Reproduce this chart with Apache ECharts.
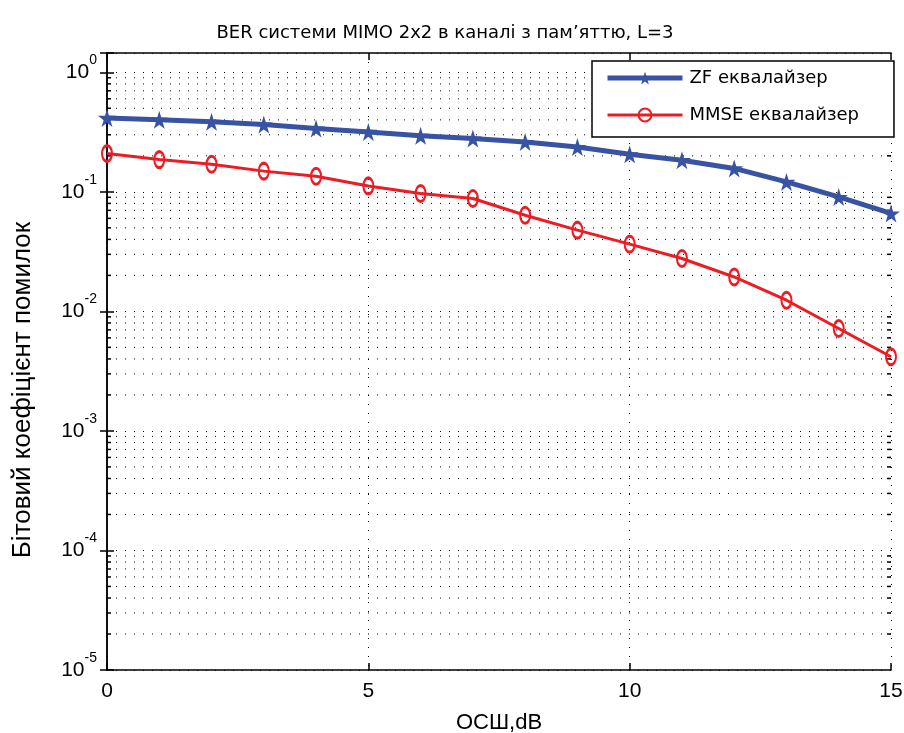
<!DOCTYPE html>
<html>
<head>
<meta charset="utf-8">
<title>BER MIMO 2x2</title>
<script src="https://cdn.jsdelivr.net/npm/echarts@6/dist/echarts.min.js"></script>
<style>
  html, body { margin: 0; padding: 0; background: #fff; }
  #main { width: 904px; height: 733px; }
</style>
</head>
<body>
<div id="main"></div>
<script>
// SNR, dB
var snr = [0, 1, 2, 3, 4, 5, 6, 7, 8, 9, 10, 11, 12, 13, 14, 15];
// BER
var berZF = [0.415, 0.40, 0.385, 0.365, 0.338, 0.317, 0.294, 0.279, 0.261, 0.237, 0.206, 0.184, 0.157, 0.121, 0.0906, 0.0659];
var berMMSE = [0.209, 0.186, 0.170, 0.149, 0.135, 0.112, 0.0968, 0.0879, 0.0637, 0.0478, 0.0365, 0.0277, 0.0194, 0.0124, 0.00719, 0.00417];
// y axis: decades shown and the mantissas of the minor grid lines
var decades = [-5, -4, -3, -2, -1];
var mantissas = [2, 3, 4, 5, 6, 7, 8, 9];

var minorValues = [];
decades.forEach(function (d) {
  mantissas.forEach(function (m) { minorValues.push([0, m * Math.pow(10, d)]); });
});

var blue = '#3953a4';
var red = '#ed1c24';
var starPath = 'path://M50,0 L61,35 L98,35 L68,57 L79,91 L50,70 L21,91 L32,57 L2,35 L39,35 Z';

function pairs(ys) {
  return snr.map(function (x, i) { return [x, ys[i]]; });
}

var chart = echarts.init(document.getElementById('main'));

var option = {
  backgroundColor: '#fff',
  animation: false,
  title: {
    text: 'BER системи MIMO 2x2 в каналі з пам\u2019яттю, L=3',
    left: 440,
    textAlign: 'center',
    top: 19,
    textStyle: { fontFamily: 'DejaVu Sans', fontSize: 18, fontWeight: 'normal', color: '#000' }
  },
  legend: {
    data: [
      { name: 'ZF еквалайзер', lineStyle: { width: 5 } },
      { name: 'MMSE еквалайзер', lineStyle: { width: 3 } }
    ],
    orient: 'vertical',
    left: 592,
    top: 61,
    padding: [7, 35, 12, 13],
    itemWidth: 75,
    itemHeight: 16,
    itemGap: 17,
    backgroundColor: '#fff',
    borderColor: '#000',
    borderWidth: 1.5,
    textStyle: { fontFamily: 'DejaVu Sans', fontSize: 18, color: '#000', lineHeight: 20, padding: [0, 0, 0, 2] }
  },
  grid: { left: 107, right: 13, top: 53, bottom: 63, outerBoundsMode: 'none', containLabel: false },
  graphic: [{
    type: 'text',
    x: 23,
    y: 390,
    rotation: Math.PI / 2,
    style: {
      text: 'Бітовий коефіцієнт помилок',
      fontFamily: 'Liberation Sans',
      fontSize: 26,
      fill: '#000',
      textAlign: 'center',
      textVerticalAlign: 'middle'
    }
  }],
  xAxis: [{
    type: 'value',
    min: 0, max: 15, interval: 5,
    name: 'ОСШ,dB',
    nameLocation: 'middle',
    nameGap: 42,
    nameTextStyle: { fontFamily: 'Liberation Sans', fontSize: 22, color: '#000' },
    axisLine: { lineStyle: { color: '#000', width: 1.5 } },
    axisTick: { inside: true, length: 7, lineStyle: { color: '#000', width: 1.5 } },
    axisLabel: { margin: 11, fontFamily: 'Liberation Sans', fontSize: 21, color: '#000' },
    splitLine: { show: true, lineStyle: { color: '#000', width: 1, type: [1, 8] } }
  }, {
    type: 'value',
    position: 'top',
    min: 0, max: 15, interval: 5,
    axisLine: { lineStyle: { color: '#000', width: 1.5 } },
    axisTick: { inside: true, length: 7, lineStyle: { color: '#000', width: 1.5 } },
    axisLabel: { show: false },
    splitLine: { show: false }
  }],
  yAxis: [{
    type: 'log',
    logBase: 10,
    min: 1e-5, max: 1.45,
    axisLine: { lineStyle: { color: '#000', width: 1.5 } },
    axisTick: { inside: true, length: 7, lineStyle: { color: '#000', width: 1.5 } },
    axisLabel: {
      margin: 10,
      formatter: function (v) {
        var e = Math.log10(v), r = Math.round(e);
        if (Math.abs(e - r) > 1e-6) return '';
        return '{b|10}{s|' + r + '}';
      },
      rich: {
        b: { fontFamily: 'Liberation Sans', fontSize: 21, color: '#000', lineHeight: 38, verticalAlign: 'middle' },
        s: { fontFamily: 'Liberation Sans', fontSize: 14, color: '#000', lineHeight: 14, verticalAlign: 'top' }
      }
    },
    splitLine: { show: true, lineStyle: { color: '#000', width: 1, type: [1, 8] } }
  }, {
    type: 'log',
    logBase: 10,
    position: 'right',
    min: 1e-5, max: 1.45,
    axisLine: { lineStyle: { color: '#000', width: 1.5 } },
    axisTick: { inside: true, length: 7, lineStyle: { color: '#000', width: 1.5 } },
    axisLabel: { show: false },
    splitLine: { show: false }
  }],
  series: [{
    // minor log grid lines with small inner ticks on both sides
    name: 'minor',
    type: 'custom',
    silent: true,
    z: 1,
    data: minorValues,
    renderItem: function (params, api) {
      var y = api.coord([0, api.value(1)])[1];
      var cs = params.coordSys;
      return {
        type: 'group',
        children: [{
          type: 'line',
          shape: { x1: cs.x, y1: y, x2: cs.x + cs.width, y2: y },
          style: { stroke: '#000', lineWidth: 1, lineDash: [1, 8] }
        }, {
          type: 'line',
          shape: { x1: cs.x, y1: y, x2: cs.x + 4, y2: y },
          style: { stroke: '#000', lineWidth: 1.5 }
        }, {
          type: 'line',
          shape: { x1: cs.x + cs.width - 4, y1: y, x2: cs.x + cs.width, y2: y },
          style: { stroke: '#000', lineWidth: 1.5 }
        }]
      };
    }
  }, {
    name: 'ZF еквалайзер',
    type: 'line',
    z: 3,
    data: pairs(berZF),
    symbol: starPath,
    symbolSize: 18,
    color: blue,
    lineStyle: { color: blue, width: 5 },
    itemStyle: { color: blue }
  }, {
    name: 'MMSE еквалайзер',
    type: 'line',
    z: 4,
    data: pairs(berMMSE),
    symbol: 'circle',
    symbolSize: [10, 16],
    color: red,
    lineStyle: { color: red, width: 3 },
    itemStyle: { color: 'rgba(0,0,0,0)', borderColor: red, borderWidth: 2.5 }
  }]
};

chart.setOption(option);
</script>
</body>
</html>
